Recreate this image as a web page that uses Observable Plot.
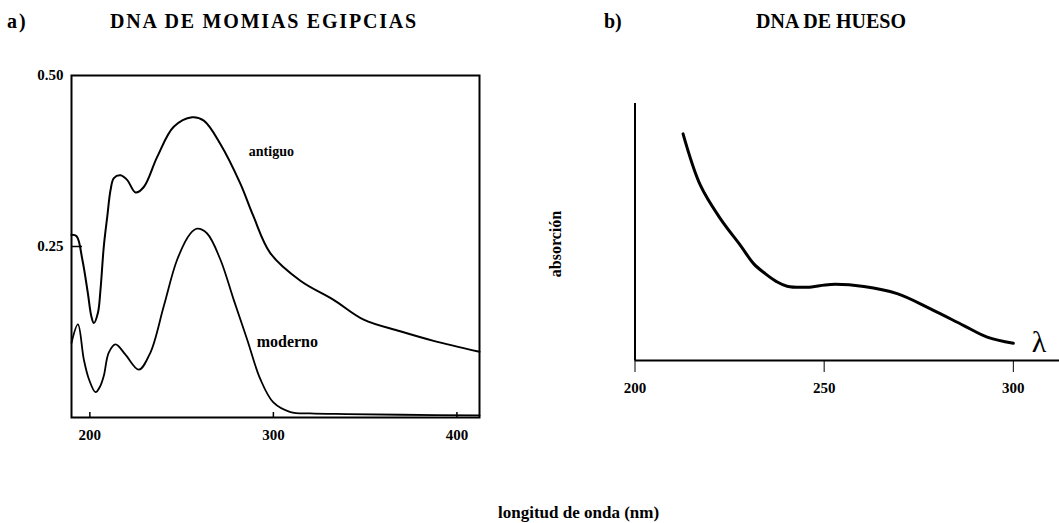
<!DOCTYPE html>
<html><head><meta charset="utf-8">
<script src="https://cdn.jsdelivr.net/npm/d3@7"></script>
<script src="https://cdn.jsdelivr.net/npm/@observablehq/plot@0.6"></script>
<style>
body{margin:0;background:#fff;}
#wrap{position:relative;width:1059px;height:523px;overflow:hidden;font-family:"Liberation Serif","DejaVu Serif","Times New Roman",serif;font-weight:bold;color:#000;}
.t{position:absolute;line-height:1;white-space:nowrap;}
#pa{position:absolute;left:0;top:0;width:500px;height:460px;}
#pb{position:absolute;left:520px;top:0;width:539px;height:460px;}
</style></head><body>
<div id="wrap">
  <div id="pa"></div>
  <div id="pb"></div>
  <div class="t" style="left:7px;top:11px;font-size:20px;letter-spacing:2px;">a)</div>
  <div class="t" style="left:110px;top:11px;font-size:20px;letter-spacing:1.8px;">DNA DE MOMIAS EGIPCIAS</div>
  <div class="t" style="left:604px;top:11px;font-size:20px;">b)</div>
  <div class="t" style="left:756px;top:11px;font-size:20px;">DNA DE HUESO</div>
  <div class="t" style="left:498px;top:504px;font-size:17px;">longitud de onda (nm)</div>
  <div class="t" style="left:556px;top:244px;font-size:16px;transform:translate(-50%,-50%) rotate(-90deg);">absorción</div>
</div>
<script>
// Panel a) DNA de momias egipcias
const wlAntiguo  = [190,192.8,195.9,198.9,200.8,202.2,204.4,205.8,207.6,209.5,211.3,213.1,216.7,220.4,224.9,229.4,236.7,245.7,255.7,262.1,271.1,282,289,298.4,314.7,332.8,349.2,369.1,387.3,412.3];
const absAntiguo = [0.267,0.265,0.231,0.182,0.148,0.138,0.153,0.187,0.25,0.294,0.333,0.350,0.354,0.347,0.329,0.337,0.381,0.425,0.439,0.434,0.400,0.342,0.295,0.240,0.200,0.172,0.143,0.126,0.112,0.096];
const wlModerno  = [190,193.5,196.7,199.5,203.1,205.5,207.6,210.3,214,219.4,226.7,233,240.3,247.6,254.8,258.5,263.9,271.1,278.4,285.7,292.9,300,309.3,320,340,370,412.3];
const absModerno = [0.109,0.136,0.085,0.056,0.037,0.045,0.061,0.095,0.107,0.092,0.070,0.095,0.163,0.231,0.269,0.276,0.269,0.231,0.172,0.114,0.056,0.022,0.008,0.006,0.005,0.004,0.003];
const xTicksA = [200,300,400];
const yTicksA = [0.25,0.50];
const curveLabels = [
  {wl: 298.9, abs: 0.389, text: "antiguo", size: 14},
  {wl: 307.6, abs: 0.111, text: "moderno", size: 16}
];

// Panel b) DNA de hueso (arbitrary absorption units)
const wlHueso  = [212.7,217.3,222.6,227.9,231.4,234.5,237.4,240.2,245.5,251.7,260.5,269.3,278.1,286.9,293.1,300];
const absHueso = [0.882,0.681,0.551,0.447,0.376,0.337,0.307,0.289,0.285,0.296,0.288,0.260,0.201,0.136,0.091,0.067];
const xTicksB = [200,250,300];
const lambdaLabel = [{wl: 306.8, abs: 0.07, text: "λ"}];

const antiguo = wlAntiguo.map((w,i)=>({wl:w, abs:absAntiguo[i]}));
const moderno = wlModerno.map((w,i)=>({wl:w, abs:absModerno[i]}));
const hueso = wlHueso.map((w,i)=>({wl:w, abs:absHueso[i]}));

const font = '"Liberation Serif","DejaVu Serif","Times New Roman",serif';

const pa = Plot.plot({
  width: 500, height: 460,
  marginLeft: 71, marginRight: 21, marginTop: 75, marginBottom: 43,
  x: {domain: [190, 412.3], label: null},
  y: {domain: [0, 0.5], label: null},
  style: {fontFamily: font, fontWeight: "bold", fontSize: "15px", color: "#000", background: "transparent", overflow: "visible"},
  marks: [
    Plot.line(antiguo, {x: "wl", y: "abs", curve: "catmull-rom", stroke: "#000", strokeWidth: 2}),
    Plot.line(moderno, {x: "wl", y: "abs", curve: "catmull-rom", stroke: "#000", strokeWidth: 1.8}),
    Plot.frame({stroke: "#000", strokeWidth: 2}),
    Plot.axisX({ticks: xTicksA, tickSize: -5, tickFormat: () => "", label: null, strokeWidth: 1.5}),
    Plot.axisX({ticks: xTicksA, tickSize: 0, tickPadding: 12, tickFormat: d3.format("d"), label: null}),
    Plot.axisY({ticks: yTicksA, tickSize: 0, tickPadding: 8, tickFormat: d3.format(".2f"), label: null}),
    Plot.axisY({ticks: [0.25], tickSize: -11, tickFormat: () => "", label: null, strokeWidth: 1.5}),
    Plot.text(curveLabels, {x: "wl", y: "abs", text: "text", fontSize: "size", fill: "#000"})
  ]
});
document.getElementById("pa").appendChild(pa);

const pb = Plot.plot({
  width: 539, height: 460,
  marginLeft: 114.5, marginRight: 0, marginTop: 103, marginBottom: 100,
  x: {domain: [200, 312.2], label: null},
  y: {domain: [0, 1], label: null, axis: null},
  style: {fontFamily: font, fontWeight: "bold", fontSize: "15px", color: "#000", background: "transparent", overflow: "visible"},
  marks: [
    Plot.ruleY([0], {stroke: "#000", strokeWidth: 2}),
    Plot.ruleX([200], {stroke: "#000", strokeWidth: 2}),
    Plot.axisX({ticks: xTicksB, tickSize: 12, tickPadding: 10, tickFormat: d3.format("d"), label: null}),
    Plot.line(hueso, {x: "wl", y: "abs", curve: "catmull-rom", stroke: "#000", strokeWidth: 3}),
    Plot.text(lambdaLabel, {x: "wl", y: "abs", text: "text", fontSize: 30, fontWeight: "normal", fill: "#000"})
  ]
});
document.getElementById("pb").appendChild(pb);
</script>
</body></html>
